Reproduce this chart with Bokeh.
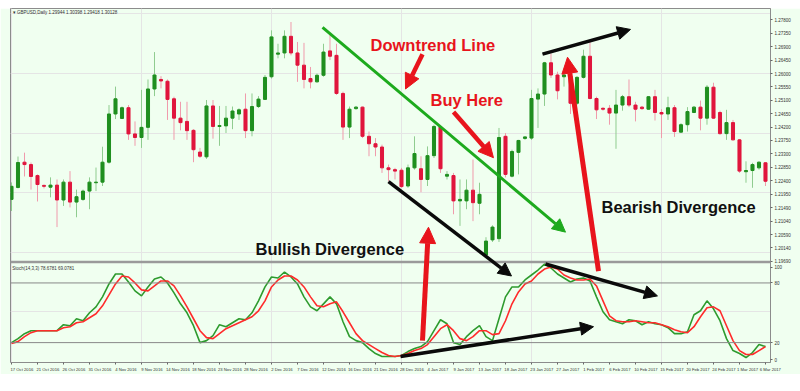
from bokeh.plotting import figure
from bokeh.models import (Range1d, LinearAxis, FixedTicker, NumeralTickFormatter, Span,
                          Label, ColumnDataSource, Arrow, NormalHead, Spacer)
from bokeh.layouts import column
from bokeh.embed import file_html
from bokeh.resources import INLINE

# ---------------- data ----------------
opens = [1.2177, 1.2217, 1.2302, 1.2294, 1.2257, 1.2224, 1.2218, 1.2225, 1.2175, 1.2235,
         1.2168, 1.2177, 1.2205, 1.2233, 1.2235, 1.2302, 1.2464, 1.2449, 1.2485, 1.2397,
         1.2385, 1.2419, 1.2548, 1.2580, 1.2574, 1.2515, 1.2450, 1.2439, 1.2409, 1.2336,
         1.2320, 1.2491, 1.2422, 1.2424, 1.2450, 1.2464, 1.2480, 1.2408, 1.2489, 1.2513,
         1.2589, 1.2665, 1.2669, 1.2725, 1.2669, 1.2628, 1.2583, 1.2572, 1.2594, 1.2676,
         1.2661, 1.2533, 1.2420, 1.2482, 1.2487, 1.2389, 1.2364, 1.2353, 1.2283, 1.2277,
         1.2275, 1.2222, 1.2283, 1.2280, 1.2244, 1.2324, 1.2420, 1.2255, 1.2257, 1.2172,
         1.2172, 1.2208, 1.2164, 1.1990, 1.2041, 1.2045, 1.2389, 1.2255, 1.2335, 1.2382,
         1.2383, 1.2514, 1.2531, 1.2636, 1.2595, 1.2589, 1.2591, 1.2500, 1.2587, 1.2658,
         1.2516, 1.2483, 1.2483, 1.2467, 1.2494, 1.2522, 1.2494, 1.2487, 1.2480, 1.2522,
         1.2469, 1.2464, 1.2485, 1.2403, 1.2428, 1.2469, 1.2487, 1.2450, 1.2554, 1.2469,
         1.2398, 1.2435, 1.2377, 1.2270, 1.2274, 1.2283, 1.2300]
highs = [1.2234, 1.2321, 1.2334, 1.2301, 1.2261, 1.2227, 1.2251, 1.2244, 1.2244, 1.2272,
         1.2210, 1.2210, 1.2251, 1.2284, 1.2354, 1.2494, 1.2556, 1.2489, 1.2494, 1.2439,
         1.2545, 1.2580, 1.2672, 1.2591, 1.2580, 1.2522, 1.2505, 1.2505, 1.2413, 1.2350,
         1.2511, 1.2511, 1.2491, 1.2491, 1.2489, 1.2483, 1.2533, 1.2533, 1.2524, 1.2595,
         1.2745, 1.2700, 1.2745, 1.2773, 1.2706, 1.2703, 1.2622, 1.2600, 1.2700, 1.2734,
         1.2700, 1.2539, 1.2489, 1.2491, 1.2489, 1.2405, 1.2383, 1.2361, 1.2294, 1.2283,
         1.2283, 1.2294, 1.2389, 1.2322, 1.2355, 1.2428, 1.2422, 1.2272, 1.2266, 1.2244,
         1.2244, 1.2311, 1.2233, 1.2050, 1.2090, 1.2417, 1.2400, 1.2344, 1.2377, 1.2389,
         1.2545, 1.2550, 1.2639, 1.2667, 1.2606, 1.2611, 1.2600, 1.2591, 1.2680, 1.2706,
         1.2522, 1.2487, 1.2494, 1.2545, 1.2528, 1.2580, 1.2505, 1.2491, 1.2524, 1.2545,
         1.2480, 1.2522, 1.2494, 1.2433, 1.2487, 1.2491, 1.2509, 1.2561, 1.2569, 1.2475,
         1.2478, 1.2444, 1.2380, 1.2305, 1.2300, 1.2305, 1.2302]
lows = [1.2138, 1.2214, 1.2254, 1.2210, 1.2170, 1.2214, 1.2184, 1.2084, 1.2155, 1.2150,
        1.2117, 1.2172, 1.2144, 1.2205, 1.2222, 1.2297, 1.2447, 1.2447, 1.2377, 1.2357,
        1.2350, 1.2377, 1.2524, 1.2550, 1.2444, 1.2377, 1.2409, 1.2377, 1.2302, 1.2316,
        1.2313, 1.2381, 1.2357, 1.2400, 1.2413, 1.2444, 1.2383, 1.2389, 1.2484, 1.2511,
        1.2583, 1.2651, 1.2651, 1.2661, 1.2572, 1.2550, 1.2550, 1.2569, 1.2589, 1.2645,
        1.2528, 1.2377, 1.2383, 1.2478, 1.2383, 1.2322, 1.2322, 1.2266, 1.2238, 1.2244,
        1.2216, 1.2216, 1.2277, 1.2201, 1.2222, 1.2316, 1.2266, 1.2244, 1.2127, 1.2088,
        1.2144, 1.2104, 1.2127, 1.1983, 1.2034, 1.2034, 1.2251, 1.2251, 1.2261, 1.2377,
        1.2377, 1.2417, 1.2491, 1.2585, 1.2513, 1.2556, 1.2464, 1.2494, 1.2583, 1.2513,
        1.2447, 1.2475, 1.2428, 1.2347, 1.2475, 1.2487, 1.2439, 1.2478, 1.2478, 1.2442,
        1.2383, 1.2444, 1.2387, 1.2400, 1.2405, 1.2467, 1.2409, 1.2428, 1.2447, 1.2394,
        1.2377, 1.2375, 1.2266, 1.2233, 1.2216, 1.2277, 1.2222]
closes = [1.2221, 1.2301, 1.2294, 1.2254, 1.2227, 1.2221, 1.2225, 1.2175, 1.2235, 1.2168,
          1.2186, 1.2205, 1.2235, 1.2235, 1.2302, 1.2464, 1.2515, 1.2485, 1.2397, 1.2385,
          1.2419, 1.2548, 1.2595, 1.2575, 1.2513, 1.2450, 1.2435, 1.2408, 1.2344, 1.2322,
          1.2491, 1.2422, 1.2425, 1.2450, 1.2474, 1.2478, 1.2408, 1.2489, 1.2514, 1.2587,
          1.2723, 1.2669, 1.2725, 1.2669, 1.2628, 1.2580, 1.2572, 1.2594, 1.2672, 1.2658,
          1.2533, 1.2420, 1.2480, 1.2487, 1.2389, 1.2364, 1.2353, 1.2283, 1.2277, 1.2272,
          1.2220, 1.2283, 1.2331, 1.2244, 1.2324, 1.2422, 1.2280, 1.2261, 1.2172, 1.2177,
          1.2208, 1.2166, 1.2194, 1.2037, 1.2084, 1.2385, 1.2261, 1.2338, 1.2375, 1.2387,
          1.2516, 1.2531, 1.2636, 1.2595, 1.2542, 1.2595, 1.2500, 1.2587, 1.2658, 1.2516,
          1.2478, 1.2480, 1.2467, 1.2494, 1.2522, 1.2494, 1.2480, 1.2482, 1.2522, 1.2469,
          1.2464, 1.2485, 1.2405, 1.2428, 1.2472, 1.2487, 1.2450, 1.2554, 1.2450, 1.2398,
          1.2435, 1.2377, 1.2272, 1.2274, 1.2294, 1.2302, 1.2238]

stoch_k = [20, 24, 29, 32, 32, 32, 32, 32, 38, 37, 44, 42, 50, 56, 66, 79, 89, 89, 81, 72,
           67, 76, 84, 86, 80, 70, 59, 50, 37, 20, 22, 27, 38, 36, 40, 44, 43, 50, 62, 76,
           86, 85, 91, 86, 79, 66, 56, 52, 59, 66, 59, 41, 26, 22, 20, 14, 9, 6, 6, 6,
           7, 11, 14, 16, 21, 32, 43, 39, 20, 18, 26, 32, 37, 26, 22, 44, 66, 76, 76, 83,
           88, 93, 99, 95, 89, 85, 81, 84, 85, 82, 66, 51, 43, 41, 39, 43, 42, 38, 41, 39,
           38, 35, 29, 29, 31, 48, 52, 62, 54, 42, 24, 12, 9, 5, 10, 18, 16]
stoch_d = [19, 21, 26, 30, 32, 32, 32, 32, 35, 36, 40, 41, 45, 49, 57, 68, 79, 87, 86, 80,
           73, 72, 77, 82, 82, 77, 67, 56, 44, 32, 25, 24, 29, 34, 37, 40, 43, 46, 52, 62,
           76, 83, 87, 87, 83, 76, 66, 57, 56, 59, 61, 51, 40, 29, 22, 18, 14, 10, 7, 6,
           7, 9, 12, 14, 18, 26, 34, 38, 32, 24, 22, 26, 32, 32, 28, 29, 42, 59, 71, 79,
           82, 89, 94, 96, 94, 88, 85, 83, 83, 84, 77, 62, 47, 42, 41, 41, 42, 41, 40, 40,
           38, 36, 33, 31, 30, 36, 46, 55, 56, 52, 37, 22, 12, 8, 8, 12, 16]

date_labels = ["17 Oct 2016", "21 Oct 2016", "26 Oct 2016", "31 Oct 2016", "4 Nov 2016",
               "9 Nov 2016", "14 Nov 2016", "18 Nov 2016", "23 Nov 2016", "28 Nov 2016",
               "2 Dec 2016", "7 Dec 2016", "12 Dec 2016", "16 Dec 2016", "21 Dec 2016",
               "28 Dec 2016", "4 Jan 2017", "9 Jan 2017", "13 Jan 2017", "18 Jan 2017",
               "23 Jan 2017", "27 Jan 2017", "1 Feb 2017", "6 Feb 2017", "10 Feb 2017",
               "15 Feb 2017", "20 Feb 2017", "24 Feb 2017", "1 Mar 2017", "6 Mar 2017"]
date_label_bars = [4 * k for k in range(len(date_labels))]

price_ticks = [1.27800, 1.27350, 1.26900, 1.26450, 1.26000, 1.25550, 1.25100, 1.24650,
               1.24200, 1.23750, 1.23300, 1.22850, 1.22400, 1.21950, 1.21490, 1.21040,
               1.20590, 1.20140, 1.19690]
stoch_levels = [20, 80]
stoch_scale_labels = ["100", "80", "20", "0"]
stoch_scale_at = [96, 80, 20, 3]     # where MT4 prints them in the sub-window

# ---------------- figure ----------------
UP, DOWN = "#1F8F1F", "#E0163D"
UP_WICK, DOWN_WICK = "#8FCC8F", "#F09AAC"
BG = "#F0FFF0"

X_RANGE = (-0.154, 116.77)
P_RANGE = (1.16290, 1.28184)
S_RANGE = (0, 356)

n = len(opens)
idx = list(range(n))
is_up = [c >= o for o, c in zip(opens, closes)]
src = ColumnDataSource(dict(
    x=idx, o=opens, h=highs, l=lows, c=closes,
    top=[max(o, c) for o, c in zip(opens, closes)],
    bottom=[min(o, c) for o, c in zip(opens, closes)],
    col=[UP if u else DOWN for u in is_up],
    wick=[UP_WICK if u else DOWN_WICK for u in is_up],
))

p = figure(width=800, height=366,
           x_range=Range1d(*X_RANGE), y_range=Range1d(*P_RANGE),
           output_backend="svg", toolbar_location=None,
           x_axis_location=None, y_axis_location=None,
           min_border_left=10, min_border_right=30, min_border_top=0, min_border_bottom=10,
           background_fill_color=BG, border_fill_color=BG,
           outline_line_color="#8C8C8C", outline_line_width=1)
p.extra_y_ranges = {"stoch": Range1d(*S_RANGE)}

# MT4 prints each date starting at its bar: the label axis is shifted by half a label
DATE_SHIFT = 1.6
date_rng = (X_RANGE[0] - DATE_SHIFT, X_RANGE[1] - DATE_SHIFT)
p.extra_x_ranges = {"dates": Range1d(*date_rng)}
# a label whose centre would fall past the frame is kept at the frame's edge,
# and its neighbour is nudged so that the two do not overlap
date_label_pos = [min(b, date_rng[1] - 0.02) for b in date_label_bars]
date_label_pos[-2] = min(date_label_pos[-2], date_label_pos[-1] - 3.5)


def stoch_to_price(s):
    return P_RANGE[0] + (s - S_RANGE[0]) * (P_RANGE[1] - P_RANGE[0]) / (S_RANGE[1] - S_RANGE[0])


stoch_ticks = [stoch_to_price(s) for s in stoch_scale_at]

# right price axis (+ the stochastic scale labels of the sub-window)
pax = LinearAxis(ticker=FixedTicker(ticks=price_ticks + stoch_ticks),
                 formatter=NumeralTickFormatter(format="0.00000"),
                 major_label_overrides={t: s for t, s in zip(stoch_ticks, stoch_scale_labels)},
                 major_label_text_font_size="4.5px", major_label_text_color="#333333",
                 major_label_text_font="Liberation Sans",
                 major_tick_out=2, major_tick_in=0, minor_tick_out=0, minor_tick_in=0,
                 major_label_standoff=2, axis_line_color="#8C8C8C",
                 major_tick_line_color="#666666")
p.add_layout(pax, "right")

# bottom date axis
dax = LinearAxis(x_range_name="dates",
                 ticker=FixedTicker(ticks=date_label_pos,
                                    minor_ticks=[b - DATE_SHIFT for b in date_label_bars]),
                 major_label_overrides={b: s for b, s in zip(date_label_pos, date_labels)},
                 major_label_text_font_size="4.2px", major_label_text_color="#333333",
                 major_label_text_font="Liberation Sans",
                 major_tick_out=0, major_tick_in=0, minor_tick_out=2, minor_tick_in=0,
                 major_label_standoff=2, axis_line_color=None,
                 minor_tick_line_color="#666666")
p.add_layout(dax, "below")

# panel separator and stoch levels
p.add_layout(Span(location=101, dimension="width", y_range_name="stoch",
                  line_color="#9A9A9A", line_width=2.5))
for lv in stoch_levels:
    p.add_layout(Span(location=lv, dimension="width", y_range_name="stoch",
                      line_color="#888888", line_width=1))

# candles
p.segment(x0="x", y0="l", x1="x", y1="h", line_color="wick", line_width=1, source=src)
p.vbar(x="x", width=0.47, top="top", bottom="bottom", fill_color="col",
       line_color="col", line_width=1, source=src)

# stochastic
p.line(idx, stoch_k, y_range_name="stoch", line_color="#2E9B2E", line_width=1.6)
p.line(idx, stoch_d, y_range_name="stoch", line_color="#FF2B2B", line_width=1.6)

# small texts inside the panels
small = dict(text_font="Liberation Sans", text_color="#333333", text_baseline="middle",
             text_align="left", text_font_size="4.5px")
p.add_layout(Label(x=0.2, y=1.2805,
                   text="\u25be GBPUSD,Daily  1.29944 1.30398 1.29418 1.30128", **small))
p.add_layout(Label(x=0.1, y=95, y_range_name="stoch",
                   text="Stoch(14,3,3) 78.6781 69.0781", **small))

# arrows
RED, GREEN, BLACK = "#E8141C", "#1DAA1D", "#0A0A0A"


def arrow(x0, y0, x1, y1, color, width, size, rng="default"):
    p.add_layout(Arrow(end=NormalHead(size=size, fill_color=color, line_color=color),
                       x_start=x0, y_start=y0, x_end=x1, y_end=y1,
                       line_color=color, line_width=width, y_range_name=rng))


arrow(47.85, 1.2755, 85.23, 1.2067, GREEN, 3, 13)
arrow(63.23, 1.2665, 60.62, 1.2548, RED, 4.5, 15)
arrow(68.0, 1.2471, 74.15, 1.2317, RED, 4.5, 15)
arrow(63.23, 22, 64.15, 136, RED, 5, 16, "stoch")
arrow(90.31, 92, 85.54, 307, RED, 5, 16, "stoch")
arrow(58.0, 182, 76.92, 87, BLACK, 3.5, 13, "stoch")
arrow(81.69, 1.2665, 95.23, 1.2748, BLACK, 3.5, 13)
arrow(82.15, 99, 99.38, 67, BLACK, 3.5, 13, "stoch")
arrow(59.85, 6, 89.54, 36, BLACK, 3.5, 13, "stoch")

# big annotation texts
big = dict(text_font="Liberation Sans", text_font_style="bold", text_font_size="16.5px",
           text_baseline="alphabetic", text_align="left")
p.add_layout(Label(x=55.23, y=1.2697, text="Downtrend Line", text_color=RED, **big))
p.add_layout(Label(x=64.46, y=1.2511, text="Buy Here", text_color=RED, **big))
p.add_layout(Label(x=37.54, y=1.2010, text="Bullish Divergence", text_color="#111111", **big))
p.add_layout(Label(x=90.77, y=1.2153, text="Bearish Divergence", text_color="#111111", **big))

layout = column(Spacer(width=800, height=8), p)
open("out.html", "w").write(file_html(layout, INLINE))
